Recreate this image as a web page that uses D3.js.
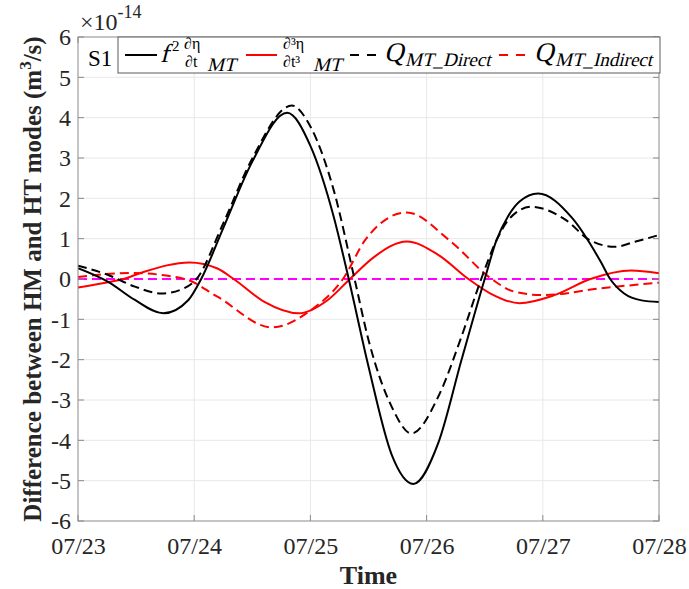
<!DOCTYPE html>
<html>
<head>
<meta charset="utf-8">
<script src="https://cdn.jsdelivr.net/npm/d3@7"></script>
<style>
  html, body { margin: 0; padding: 0; background: #fff; }
  svg { display: block; font-family: "Liberation Serif", "Times New Roman", serif; }
</style>
</head>
<body>
<svg id="chart" width="689" height="589"></svg>
<script>
// Time axis: days since 07/23 00:00
const tickDays = [0, 1, 2, 3, 4, 5];
const tickLabels = ["07/23", "07/24", "07/25", "07/26", "07/27", "07/28"];
const yTicks = [-6, -5, -4, -3, -2, -1, 0, 1, 2, 3, 4, 5, 6];

// f^2 dη/dt (MT) — values in units of 1e-14 m^3/s
const f2Days = [0, 0.26, 0.49, 0.734, 0.95, 1.06, 1.25, 1.5, 1.8, 2.0, 2.2, 2.33, 2.5, 2.7, 2.886, 3.1, 3.3, 3.5, 3.6, 3.7, 3.8, 3.96, 4.25, 4.5, 4.58, 4.7, 4.85, 5.0];
const f2Vals = [0.27, -0.07, -0.52, -0.85, -0.52, 0, 1.26, 2.91, 4.12, 3.30, 1.55, 0, -2.17, -4.36, -5.08, -4.07, -2.01, 0, 0.95, 1.55, 1.92, 2.12, 1.52, 0.42, 0, -0.36, -0.53, -0.57];

// d3η/dt3 (MT)
const d3Days = [0, 0.26, 0.39, 0.55, 0.96, 1.2, 1.34, 1.6, 1.9, 2.15, 2.34, 2.55, 2.83, 3.1, 3.36, 3.55, 3.8, 4.1, 4.41, 4.76, 5.0];
const d3Vals = [-0.21, -0.08, 0, 0.16, 0.41, 0.26, 0, -0.56, -0.85, -0.52, 0, 0.55, 0.93, 0.6, 0, -0.36, -0.60, -0.40, 0, 0.21, 0.14];

// Q_MT_Direct
const qdDays = [0, 0.26, 0.49, 0.72, 0.92, 1.02, 1.25, 1.5, 1.84, 2.0, 2.2, 2.38, 2.5, 2.7, 2.87, 3.1, 3.3, 3.47, 3.6, 3.72, 3.9, 4.2, 4.4, 4.62, 4.8, 5.0];
const qdVals = [0.33, 0.10, -0.19, -0.36, -0.22, 0, 1.38, 2.99, 4.30, 3.78, 2.21, 0, -1.51, -3.17, -3.83, -2.92, -1.43, 0, 0.95, 1.52, 1.79, 1.46, 0.97, 0.80, 0.93, 1.09];

// Q_MT_Indirect
const qiDays = [0, 0.45, 0.92, 1.2, 1.667, 2.0, 2.28, 2.48, 2.83, 3.2, 3.56, 3.75, 4.0, 4.5, 5.0];
const qiVals = [0.05, 0.15, 0, -0.44, -1.20, -0.78, 0, 1.0, 1.65, 0.95, 0, -0.31, -0.40, -0.23, -0.09];

// Reference line at zero difference
const zeroDays = [0, 5];
const zeroVals = [0, 0];

const svg = d3.select("#chart");
const plot = { left: 78, right: 659, top: 37, bottom: 521 };

const x = d3.scaleLinear().domain([0, 5]).range([plot.left, plot.right]);
const y = d3.scaleLinear().domain([-6, 6]).range([plot.bottom, plot.top]);

const textColor = "#262626";
const axisColor = "#8a8a8a";
const serif = "Liberation Serif";

// Grid
const grid = svg.append("g");
grid.selectAll("line.gx").data(tickDays.slice(1, -1)).join("line")
  .attr("x1", d => x(d)).attr("x2", d => x(d))
  .attr("y1", plot.top).attr("y2", plot.bottom)
  .attr("stroke", "#e8e8e8").attr("stroke-width", 1);
grid.selectAll("line.gy").data(yTicks.slice(1, -1)).join("line")
  .attr("x1", plot.left).attr("x2", plot.right)
  .attr("y1", d => y(d)).attr("y2", d => y(d))
  .attr("stroke", "#e8e8e8").attr("stroke-width", 1);

// Clip
svg.append("clipPath").attr("id", "clip").append("rect")
  .attr("x", plot.left).attr("y", plot.top)
  .attr("width", plot.right - plot.left).attr("height", plot.bottom - plot.top);

const line = d3.line().x(d => x(d[0])).y(d => y(d[1])).curve(d3.curveMonotoneX);
const pairs = (a, b) => a.map((d, i) => [d, b[i]]);

const series = [
  { days: zeroDays, vals: zeroVals, color: "#ff00ff", dash: "9,5" },
  { days: qiDays, vals: qiVals, color: "#ff0000", dash: "9,5" },
  { days: d3Days, vals: d3Vals, color: "#ff0000", dash: null },
  { days: qdDays, vals: qdVals, color: "#000000", dash: "9,5" },
  { days: f2Days, vals: f2Vals, color: "#000000", dash: null }
];

const lines = svg.append("g").attr("clip-path", "url(#clip)");
series.forEach(s => {
  lines.append("path")
    .datum(pairs(s.days, s.vals))
    .attr("d", line)
    .attr("fill", "none")
    .attr("stroke", s.color)
    .attr("stroke-width", 2)
    .attr("stroke-dasharray", s.dash);
});

// Box and inward ticks
svg.append("rect")
  .attr("x", plot.left).attr("y", plot.top)
  .attr("width", plot.right - plot.left).attr("height", plot.bottom - plot.top)
  .attr("fill", "none").attr("stroke", axisColor).attr("stroke-width", 1);

const ticks = svg.append("g").attr("stroke", axisColor).attr("stroke-width", 1);
yTicks.forEach(v => {
  ticks.append("line").attr("x1", plot.left).attr("x2", plot.left + 6).attr("y1", y(v)).attr("y2", y(v));
  ticks.append("line").attr("x1", plot.right - 6).attr("x2", plot.right).attr("y1", y(v)).attr("y2", y(v));
});
tickDays.forEach(v => {
  ticks.append("line").attr("x1", x(v)).attr("x2", x(v)).attr("y1", plot.bottom).attr("y2", plot.bottom - 6);
  ticks.append("line").attr("x1", x(v)).attr("x2", x(v)).attr("y1", plot.top).attr("y2", plot.top + 6);
});

// Axis labels via d3 axes
const yAxis = svg.append("g")
  .attr("transform", `translate(${plot.left},0)`)
  .call(d3.axisLeft(y).tickValues(yTicks).tickSize(0).tickPadding(7).tickFormat(d => String(d)));
yAxis.attr("font-family", serif);
yAxis.select(".domain").remove();
yAxis.selectAll("text")
  .attr("font-family", serif).attr("font-size", 24)
  .attr("fill", textColor).attr("dy", "0.32em");

const xAxis = svg.append("g")
  .attr("transform", `translate(0,${plot.bottom})`)
  .call(d3.axisBottom(x).tickValues(tickDays).tickSize(0).tickFormat((d, i) => tickLabels[i]));
xAxis.attr("font-family", serif);
xAxis.select(".domain").remove();
xAxis.selectAll("text")
  .attr("font-family", serif).attr("font-size", 24)
  .attr("fill", textColor).attr("y", 33).attr("dy", 0);

// Exponent
const expo = svg.append("text").attr("x", 80).attr("y", 30)
  .attr("font-size", 24).attr("fill", textColor);
expo.append("tspan").text("×10");
expo.append("tspan").attr("font-size", 18).attr("dy", -12).text("-14");

// Axis titles
svg.append("text")
  .attr("x", (plot.left + plot.right) / 2).attr("y", 584)
  .attr("text-anchor", "middle").attr("font-size", 26).attr("font-weight", "bold")
  .attr("fill", textColor).text("Time");

const yl = svg.append("text")
  .attr("transform", `translate(41,${(plot.top + plot.bottom) / 2}) rotate(-90)`)
  .attr("text-anchor", "middle").attr("font-size", 25).attr("font-weight", "bold")
  .attr("fill", textColor);
yl.append("tspan").text("Difference between HM and HT modes (m");
yl.append("tspan").attr("font-size", 17).attr("dy", -10).text("3");
yl.append("tspan").attr("dy", 10).text("/s)");

// Panel tag
svg.append("text").attr("x", 88).attr("y", 66)
  .attr("font-size", 23).attr("fill", "#000").text("S1");

// Legend
const lg = svg.append("g").attr("font-family", serif);
lg.append("rect").attr("x", 118).attr("y", 37).attr("width", 542).attr("height", 36)
  .attr("fill", "#fff").attr("stroke", "#5a5a5a").attr("stroke-width", 1);

const legendSamples = [
  { x1: 125, x2: 157, color: "#000", dash: null },
  { x1: 246, x2: 277, color: "#ff0000", dash: null },
  { x1: 350, x2: 376, color: "#000", dash: "9,8" },
  { x1: 499, x2: 525, color: "#ff0000", dash: "9,8" }
];
legendSamples.forEach(s => {
  lg.append("line").attr("x1", s.x1).attr("x2", s.x2).attr("y1", 55).attr("y2", 55)
    .attr("stroke", s.color).attr("stroke-width", 2).attr("stroke-dasharray", s.dash);
});

// Upright text, or slanted (math italic) via a skew transform
function txt(xp, yp, size, str, italic) {
  return lg.append("text")
    .attr("transform", `translate(${xp},${yp})` + (italic ? " skewX(-14)" : ""))
    .attr("font-size", size).attr("fill", "#000").text(str);
}
// f^2 ∂η/∂t _MT
txt(160, 62, 26, "f", true);
txt(172, 51, 15, "2", false);
txt(184, 49, 16, "∂η", false);
txt(185, 67, 16, "∂t", false);
txt(207, 71, 19, "MT", true);
// ∂³η/∂t³ _MT
txt(283, 49, 16, "∂³η", false);
txt(283, 67, 16, "∂t³", false);
txt(313, 71, 19, "MT", true);
// Q_MT_Direct
txt(384, 61, 27, "Q", true);
txt(405, 66, 19, "MT_Direct", true);
// Q_MT_Indirect
txt(534, 61, 27, "Q", true);
txt(555, 66, 19, "MT_Indirect", true);
</script>
</body>
</html>
